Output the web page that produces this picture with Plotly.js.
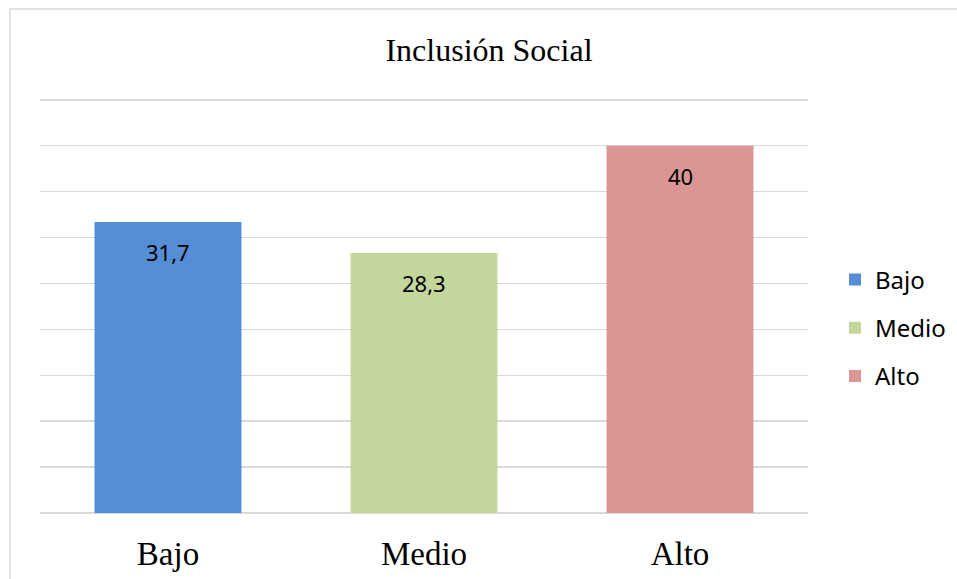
<!DOCTYPE html>
<html>
<head>
<meta charset="utf-8">
<script src="https://cdn.plot.ly/plotly-3.0.1.min.js"></script>
<style>
html,body{margin:0;padding:0;background:#fff;}
#chart{width:957px;height:579px;}
</style>
</head>
<body>
<div id="chart"></div>
<script>
const categories = ["Bajo", "Medio", "Alto"];
const values = [31.7, 28.3, 40];
const colors = ["#558ED5", "#C3D69B", "#D99694"];
const chartTitle = "Inclusión Social";

const fmt = v => String(v).replace('.', ',');

const traces = categories.map((c, i) => ({
  type: 'bar',
  x: [c],
  y: [values[i]],
  name: c,
  legendgroup: c,
  marker: {color: colors[i]},
  hoverinfo: 'x+y'
}));

const annotations = categories.map((c, i) => ({
  x: c, y: values[i], xref: 'x', yref: 'y',
  text: fmt(values[i]), showarrow: false,
  yanchor: 'middle', yshift: -30,
  font: {family: 'Noto Sans, Open Sans, sans-serif', size: 22, color: '#000'}
}));

const W = 957, H = 579, L = 40, R = 149, T = 97, B = 66;
const pw = W - L - R, ph = H - T - B;
const px = p => (p - L) / pw;
const py = p => (H - B - p) / ph;

const layout = {
  width: W, height: H,
  margin: {l: L, r: R, t: T, b: B, pad: 0, autoexpand: false},
  paper_bgcolor: '#fff', plot_bgcolor: '#fff',
  title: {
    text: chartTitle,
    font: {family: 'Liberation Serif, Times New Roman, serif', size: 32, color: '#000'},
    xref: 'container', x: 489 / W, xanchor: 'center',
    yref: 'container', y: 1 - 50 / H, yanchor: 'middle'
  },
  barmode: 'overlay',
  bargap: 0.426,
  showlegend: true,
  legend: {
    x: px(835), xanchor: 'left', y: py(328), yanchor: 'middle',
    font: {family: 'Noto Sans, Open Sans, sans-serif', size: 24, color: '#000'},
    tracegroupgap: 14, bgcolor: 'rgba(0,0,0,0)'
  },
  xaxis: {
    type: 'category', categoryarray: categories,
    showgrid: false, zeroline: false, showline: false,
    ticks: 'outside', ticklen: 11, tickcolor: 'rgba(0,0,0,0)',
    tickfont: {family: 'Liberation Serif, Times New Roman, serif', size: 33, color: '#000'},
    fixedrange: true
  },
  yaxis: {
    range: [0, 45.3], dtick: 5, tick0: 0,
    showgrid: true, gridcolor: '#D9D9D9', gridwidth: 1.5,
    zeroline: true, zerolinecolor: '#D9D9D9', zerolinewidth: 1.5,
    showticklabels: false, ticks: '', showline: false,
    fixedrange: true
  },
  annotations: annotations,
  shapes: [
    {type: 'line', xref: 'paper', yref: 'paper', x0: px(10), x1: px(10), y0: py(9), y1: py(600),
     line: {color: '#D9D9D9', width: 1.5}},
    {type: 'line', xref: 'paper', yref: 'paper', x0: px(10), x1: px(1000), y0: py(9), y1: py(9),
     line: {color: '#D9D9D9', width: 1.5}}
  ]
};

Plotly.newPlot('chart', traces, layout, {displayModeBar: false, staticPlot: true});
</script>
</body>
</html>
